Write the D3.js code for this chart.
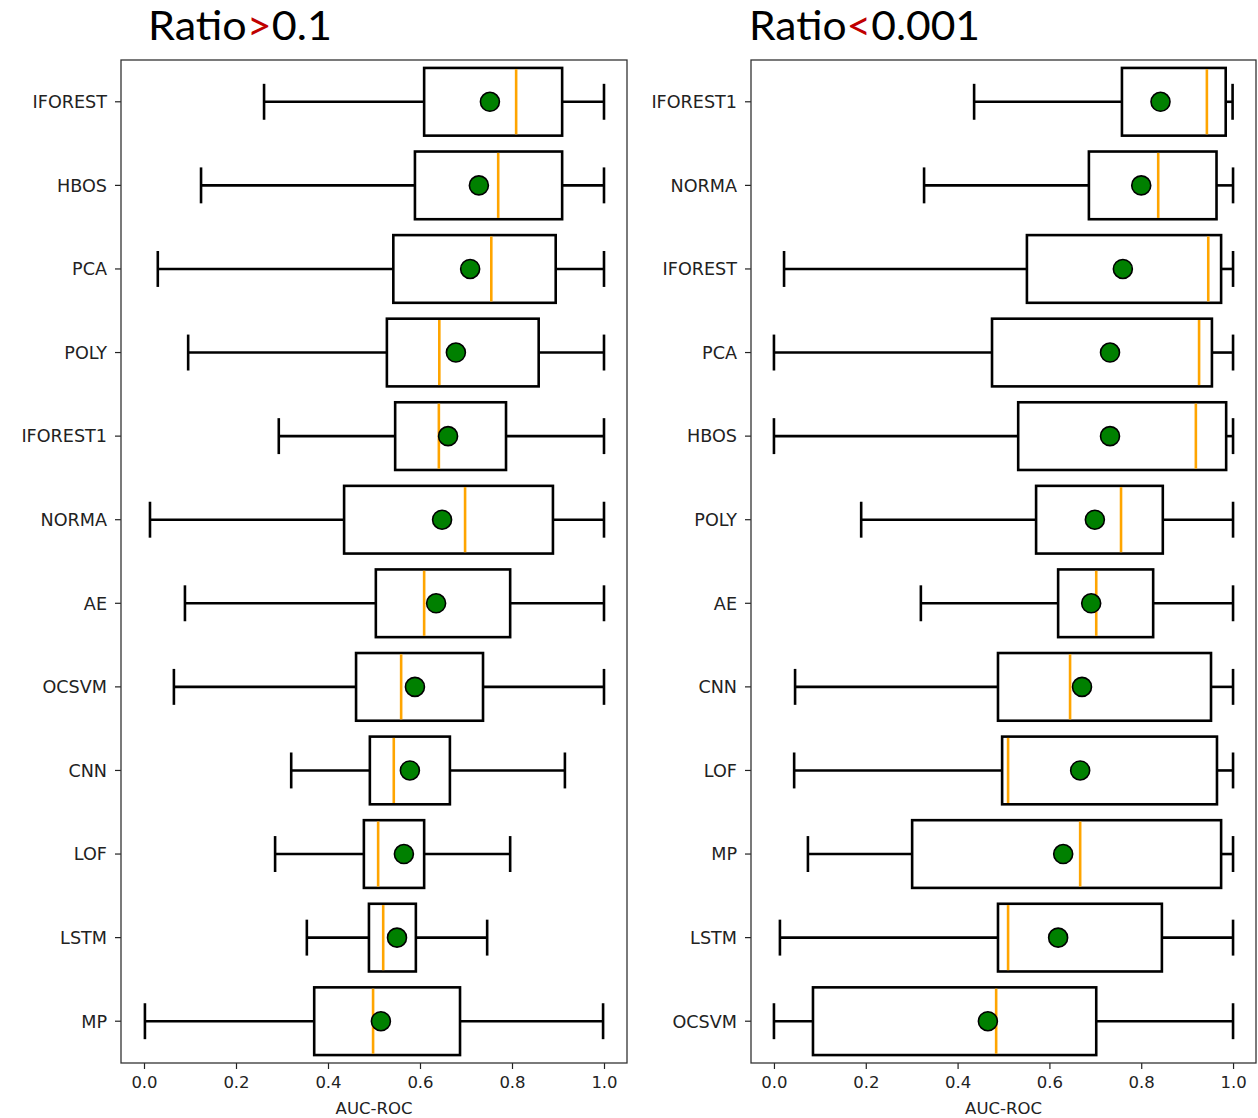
<!DOCTYPE html>
<html>
<head>
<meta charset="utf-8">
<script src="https://cdn.jsdelivr.net/npm/d3@7"></script>
<style>
  html, body { margin: 0; padding: 0; background: #fff; }
  svg { display: block; }
</style>
</head>
<body>
<svg id="chart" width="1258" height="1118"></svg>
<script>
// ---------- DATA (top to bottom) ----------
const leftCategories = ["IFOREST","HBOS","PCA","POLY","IFOREST1","NORMA","AE","OCSVM","CNN","LOF","LSTM","MP"];
const leftWhiskerLow  = [0.261,0.124,0.030,0.096,0.293,0.013,0.089,0.065,0.320,0.285,0.354,0.002];
const leftQ1          = [0.609,0.589,0.542,0.528,0.546,0.435,0.504,0.461,0.491,0.478,0.489,0.370];
const leftMedian      = [0.809,0.770,0.755,0.642,0.641,0.698,0.609,0.559,0.543,0.509,0.520,0.498];
const leftQ3          = [0.909,0.909,0.895,0.858,0.787,0.889,0.796,0.737,0.665,0.609,0.591,0.687];
const leftWhiskerHigh = [1.000,1.000,1.000,1.000,1.000,1.000,1.000,1.000,0.915,0.796,0.746,0.998];
const leftMean        = [0.752,0.728,0.709,0.678,0.661,0.648,0.635,0.589,0.578,0.565,0.550,0.515];

const rightCategories = ["IFOREST1","NORMA","IFOREST","PCA","HBOS","POLY","AE","CNN","LOF","MP","LSTM","OCSVM"];
const rightWhiskerLow  = [0.436,0.327,0.022,0.000,0.000,0.190,0.320,0.046,0.044,0.074,0.013,0.000];
const rightQ1          = [0.758,0.686,0.551,0.475,0.532,0.571,0.619,0.488,0.497,0.301,0.488,0.085];
const rightMedian      = [0.943,0.837,0.946,0.926,0.919,0.756,0.702,0.645,0.510,0.667,0.510,0.484];
const rightQ3          = [0.984,0.964,0.974,0.954,0.985,0.847,0.826,0.952,0.965,0.974,0.845,0.702];
const rightWhiskerHigh = [0.999,1.000,1.000,1.000,1.000,1.000,1.000,1.000,1.000,1.000,1.000,1.000];
const rightMean        = [0.842,0.800,0.760,0.732,0.732,0.699,0.691,0.671,0.667,0.630,0.619,0.466];

const xTicks = [0.0, 0.2, 0.4, 0.6, 0.8, 1.0];
const xLabel = "AUC-ROC";
const leftTitle  = ["Ratio", ">", "0.1"];
const rightTitle = ["Ratio", "<", "0.001"];

// ---------- DRAW ----------
const svg = d3.select("#chart");
const TOP = 60, BOTTOM = 1063;

function panel(opts) {
  const { x0, x1, cats, lo, q1, med, q3, hi, mean, title, titleX, titleW } = opts;
  const g = svg.append("g");
  const x = d3.scaleLinear().domain([-0.05, 1.05]).range([x0, x1]);
  const y = d3.scaleBand().domain(cats).range([TOP, BOTTOM]).padding(0);
  const bw = y.bandwidth();
  const boxH = bw * 0.81, capH = bw * 0.43;

  const data = cats.map((c, i) => ({ c, lo: lo[i], q1: q1[i], med: med[i], q3: q3[i], hi: hi[i], mean: mean[i] }));

  // axes
  const xa = g.append("g").attr("transform", `translate(0,${BOTTOM})`)
    .call(d3.axisBottom(x).tickValues(xTicks).tickFormat(d3.format(".1f")).tickSize(6).tickPadding(7));
  const ya = g.append("g").attr("transform", `translate(${x0},0)`)
    .call(d3.axisLeft(y).tickSize(6).tickPadding(8));
  [xa, ya].forEach(a => {
    a.select(".domain").remove();
    a.selectAll(".tick line").attr("stroke", "#222").attr("stroke-width", 1.2);
    a.selectAll(".tick text").attr("fill", "#222")
      .style("font-family", "'DejaVu Sans', sans-serif").style("font-size", "16.5px");
  });
  ya.selectAll(".tick text").style("font-size", "17.6px").attr("dy", "0.36em");

  // frame
  g.append("rect").attr("x", x0).attr("y", TOP).attr("width", x1 - x0).attr("height", BOTTOM - TOP)
    .attr("fill", "none").attr("stroke", "#333").attr("stroke-width", 1.3);

  const items = g.selectAll(".item").data(data).join("g").attr("class", "item")
    .attr("transform", d => `translate(0,${y(d.c) + bw / 2})`);

  function ln(sel, x1f, x2f, y1, y2, col, w) {
    sel.append("line").attr("x1", x1f).attr("x2", x2f).attr("y1", y1).attr("y2", y2)
      .attr("stroke", col || "#000").attr("stroke-width", w || 2.6);
  }
  // whiskers
  ln(items, d => x(d.lo), d => x(d.q1), 0, 0);
  ln(items, d => x(d.q3), d => x(d.hi), 0, 0);
  // caps
  ln(items, d => x(d.lo), d => x(d.lo), -capH / 2, capH / 2);
  ln(items, d => x(d.hi), d => x(d.hi), -capH / 2, capH / 2);
  // box
  items.append("rect").attr("x", d => x(d.q1)).attr("width", d => x(d.q3) - x(d.q1))
    .attr("y", -boxH / 2).attr("height", boxH)
    .attr("fill", "none").attr("stroke", "#000").attr("stroke-width", 2.6);
  // median
  ln(items, d => x(d.med), d => x(d.med), -boxH / 2 + 1.3, boxH / 2 - 1.3, "#ffa500", 2.6);
  // mean
  items.append("circle").attr("cx", d => x(d.mean)).attr("cy", 0).attr("r", 9.5)
    .attr("fill", "#008000").attr("stroke", "#000").attr("stroke-width", 1.6);

  // x label
  g.append("text").attr("x", (x0 + x1) / 2).attr("y", 1114).attr("text-anchor", "middle")
    .attr("fill", "#222").style("font-family", "'DejaVu Sans', sans-serif").style("font-size", "16.5px")
    .text(xLabel);

  // title
  const t = g.append("text").attr("x", titleX).attr("y", 40)
    .attr("textLength", titleW).attr("lengthAdjust", "spacingAndGlyphs")
    .style("font-family", "Lato, 'Open Sans', sans-serif").style("font-size", "41px").attr("fill", "#000");
  t.append("tspan").text(title[0]);
  t.append("tspan").attr("fill", "#c00000").text(title[1]);
  t.append("tspan").text(title[2]);
}

panel({ x0: 121, x1: 627, cats: leftCategories, lo: leftWhiskerLow, q1: leftQ1, med: leftMedian,
  q3: leftQ3, hi: leftWhiskerHigh, mean: leftMean, title: leftTitle, titleX: 148, titleW: 184 });
panel({ x0: 751, x1: 1256, cats: rightCategories, lo: rightWhiskerLow, q1: rightQ1, med: rightMedian,
  q3: rightQ3, hi: rightWhiskerHigh, mean: rightMean, title: rightTitle, titleX: 749, titleW: 231 });
</script>
</body>
</html>
